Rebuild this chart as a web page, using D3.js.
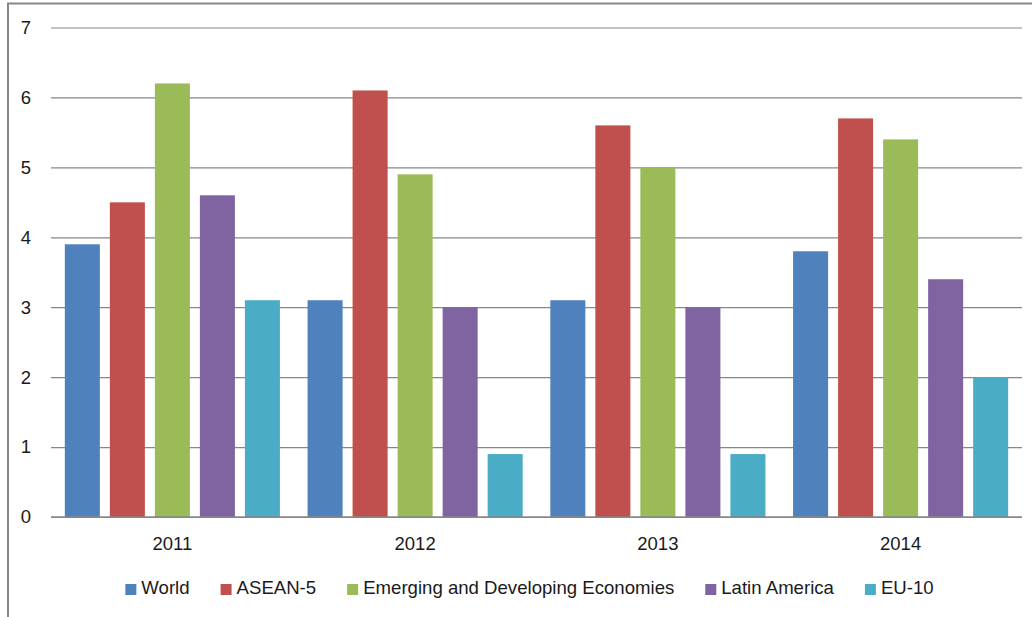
<!DOCTYPE html>
<html>
<head>
<meta charset="utf-8">
<script src="https://cdn.jsdelivr.net/npm/d3@7"></script>
<style>
  html, body { margin: 0; padding: 0; background: #fff; }
  svg { display: block; }
  text { font-family: "Liberation Sans", Arial, sans-serif; fill: #1a1a1a; }
</style>
</head>
<body>
<svg id="chart" width="1032" height="617"></svg>
<script>
// Growth rates (%) by year and region
const years = ["2011", "2012", "2013", "2014"];
const regions = ["World", "ASEAN-5", "Emerging and Developing Economies", "Latin America", "EU-10"];
const world = [3.9, 3.1, 3.1, 3.8];
const asean5 = [4.5, 6.1, 5.6, 5.7];
const emerging = [6.2, 4.9, 5.0, 5.4];
const latinAmerica = [4.6, 3.0, 3.0, 3.4];
const eu10 = [3.1, 0.9, 0.9, 2.0];
const yTicks = [0, 1, 2, 3, 4, 5, 6, 7];
const colors = ["#4F81BD", "#C0504D", "#9BBB59", "#8064A2", "#4BACC6"];

const seriesValues = [world, asean5, emerging, latinAmerica, eu10];
const rows = years.map((yr, i) => ({
  year: yr,
  values: regions.map((r, j) => ({ region: r, value: seriesValues[j][i], idx: j }))
}));

const svg = d3.select("#chart");
const plot = { left: 51, right: 1022, top: 27.5, bottom: 517 };

// Outer frame
svg.append("rect")
  .attr("x", 8).attr("y", 3.5)
  .attr("width", 1040).attr("height", 640)
  .attr("fill", "none").attr("stroke", "#878787").attr("stroke-width", 2);

const y = d3.scaleLinear().domain([0, 7]).range([plot.bottom, plot.top]);
const x0 = d3.scaleBand().domain(years).range([plot.left, plot.right]).padding(0);
const x1 = d3.scaleBand().domain(regions).range([0, x0.bandwidth()])
  .paddingInner(0.222).paddingOuter(0.307);

// Gridlines and value labels
const yAxis = d3.axisLeft(y).tickValues(yTicks).tickSize(-(plot.right - plot.left)).tickPadding(20).tickFormat(d3.format("d"));
const gy = svg.append("g").attr("transform", `translate(${plot.left},0)`).call(yAxis);
gy.select(".domain").remove();
gy.selectAll(".tick line").attr("stroke", "#878787").attr("stroke-width", 1.2);
gy.selectAll(".tick text").attr("font-size", 18.5).attr("fill", "#1a1a1a")
  .style("font-family", "'Liberation Sans', Arial, sans-serif");

// Bars
const groups = svg.append("g").selectAll("g").data(rows).join("g")
  .attr("transform", d => `translate(${x0(d.year)},0)`);
groups.selectAll("rect").data(d => d.values).join("rect")
  .attr("x", d => x1(d.region))
  .attr("width", x1.bandwidth())
  .attr("y", d => y(d.value))
  .attr("height", d => y(0) - y(d.value))
  .attr("fill", d => colors[d.idx]);

// Baseline
svg.append("line")
  .attr("x1", plot.left).attr("x2", plot.right)
  .attr("y1", y(0)).attr("y2", y(0))
  .attr("stroke", "#878787").attr("stroke-width", 1.5);

// Category labels
const xAxis = d3.axisBottom(x0).tickSize(0).tickPadding(20);
const gx = svg.append("g").attr("transform", `translate(0,${plot.bottom})`).call(xAxis);
gx.select(".domain").remove();
gx.selectAll(".tick text").attr("font-size", 18.5).attr("fill", "#1a1a1a")
  .style("font-family", "'Liberation Sans', Arial, sans-serif");

// Legend
const legend = svg.append("g");
const items = legend.selectAll("g").data(regions).join("g");
items.append("rect").attr("width", 11).attr("height", 11).attr("y", -10)
  .attr("fill", (d, i) => colors[i]);
items.append("text").attr("x", 16).attr("y", 0).attr("font-size", 18.6).text(d => d);
let cx = 0;
const gap = 31;
items.each(function () {
  const g = d3.select(this);
  const w = 16 + g.select("text").node().getComputedTextLength();
  g.attr("transform", `translate(${cx},0)`);
  cx += w + gap;
});
const total = cx - gap;
legend.attr("transform", `translate(${529.5 - total / 2},594)`);
</script>
</body>
</html>
